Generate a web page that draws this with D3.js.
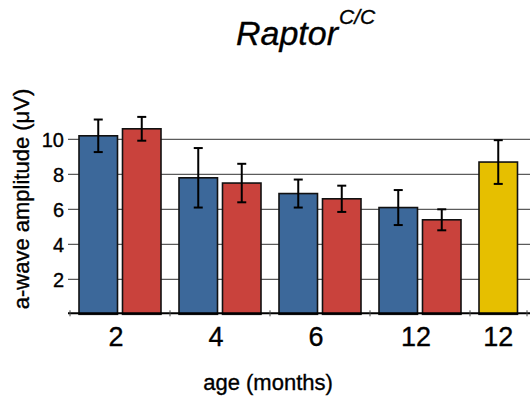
<!DOCTYPE html>
<html>
<head>
<meta charset="utf-8">
<script src="https://cdn.jsdelivr.net/npm/d3@7"></script>
<style>
  body { margin: 0; background: #fff; }
  text { font-family: "Liberation Sans", Arial, Helvetica, sans-serif; fill: #000; stroke: #000; stroke-width: 0.35px; }
</style>
</head>
<body>
<div class="chart"></div>
<script>
// groups along the x axis
var groups = ["2", "4", "6", "12", "12y"];
var groupLabels = ["2", "4", "6", "12", "12"];

// a-wave amplitude (uV), mean and error
var blueMean = [10.2, 7.8, 6.9, 6.1];
var blueErr  = [0.93, 1.7, 0.8, 1.0];
var redMean  = [10.6, 7.5, 6.6, 5.4];
var redErr   = [0.68, 1.1, 0.75, 0.6];
var yellowMean = [8.7];
var yellowErr  = [1.25];

var yTicks = [2, 4, 6, 8, 10];

var width = 530, height = 398;

var svg = d3.select(".chart").append("svg")
    .attr("width", width)
    .attr("height", height);

var x0 = d3.scaleBand().domain(groups).range([70, 570]);
var x1 = d3.scaleBand().domain(["blue", "red"]).range([9, 91]).paddingInner(0.115);
var y = d3.scaleLinear().domain([0, 10]).range([314.3, 139.3]);

var colors = {blue: "#3c689a", red: "#c9423c", yellow: "#e6bf00"};

// build bar rows
var bars = [];
blueMean.forEach(function(d, i) {
  bars.push({g: groups[i], s: "blue", v: d, e: blueErr[i]});
  bars.push({g: groups[i], s: "red", v: redMean[i], e: redErr[i]});
});
yellowMean.forEach(function(d, i) {
  bars.push({g: groups[4 + i], s: "yellow", v: d, e: yellowErr[i]});
});

function barX(d) { return x0(d.g) + x1(d.s === "yellow" ? "blue" : d.s); }

// gridlines + left ticks
svg.append("g").selectAll("line")
  .data(yTicks)
  .enter().append("line")
    .attr("x1", 68).attr("x2", width)
    .attr("y1", function(d) { return y(d); })
    .attr("y2", function(d) { return y(d); })
    .attr("stroke", "#333")
    .attr("stroke-width", 1);

svg.append("g").selectAll("text")
  .data(yTicks)
  .enter().append("text")
    .attr("x", 64)
    .attr("y", function(d) { return y(d); })
    .attr("dy", "0.36em")
    .attr("text-anchor", "end")
    .style("font-size", "20px")
    .text(function(d) { return d; });

// bars
svg.append("g").selectAll("rect")
  .data(bars)
  .enter().append("rect")
    .attr("x", barX)
    .attr("y", function(d) { return y(d.v); })
    .attr("width", x1.bandwidth())
    .attr("height", function(d) { return y(0) - y(d.v); })
    .attr("fill", function(d) { return colors[d.s]; })
    .attr("stroke", "#111")
    .attr("stroke-width", 1.6);

// error bars
var eb = svg.append("g").attr("stroke", "#000").attr("stroke-width", 2);
bars.forEach(function(d) {
  var cx = barX(d) + x1.bandwidth() / 2;
  eb.append("line")
    .attr("x1", cx).attr("x2", cx)
    .attr("y1", y(d.v + d.e)).attr("y2", y(d.v - d.e));
  [d.v + d.e, d.v - d.e].forEach(function(v) {
    eb.append("line")
      .attr("x1", cx - 4.5).attr("x2", cx + 4.5)
      .attr("y1", y(v)).attr("y2", y(v));
  });
});

// bottom axis
var axisY = 313.3;
svg.append("line")
  .attr("x1", 68).attr("x2", width)
  .attr("y1", axisY).attr("y2", axisY)
  .attr("stroke", "#000").attr("stroke-width", 2);

var tickXs = groups.map(function(g) { return x0(g); }).concat([527]);
svg.append("g").selectAll("line")
  .data(tickXs)
  .enter().append("line")
    .attr("x1", function(d) { return d; })
    .attr("x2", function(d) { return d; })
    .attr("y1", axisY - 3).attr("y2", axisY + 3)
    .attr("stroke", "#444").attr("stroke-width", 1);

// x labels: centred under the bars of each group
svg.append("g").selectAll("text")
  .data(groups)
  .enter().append("text")
    .attr("x", function(g, i) {
      return g === "12y" ? x0(g) + x1("blue") + x1.bandwidth() / 2 : x0(g) + x0.bandwidth() / 2 - 4;
    })
    .attr("y", 346)
    .attr("text-anchor", "middle")
    .style("font-size", "27px")
    .text(function(g, i) { return groupLabels[i]; });

// axis titles
svg.append("text")
  .attr("x", 268).attr("y", 390)
  .attr("text-anchor", "middle")
  .style("font-size", "22px")
  .text("age (months)");

svg.append("text")
  .attr("transform", "translate(29,199) rotate(-90)")
  .attr("text-anchor", "middle")
  .style("font-size", "22px")
  .text("a-wave amplitude (\u03BCV)");

// title
var title = svg.append("text")
  .attr("x", 236).attr("y", 45)
  .style("font-style", "italic");
title.append("tspan").style("font-size", "34px").text("Raptor");
title.append("tspan").attr("dy", -21).attr("dx", 1).style("font-size", "21px").text("C/C");
</script>
</body>
</html>
